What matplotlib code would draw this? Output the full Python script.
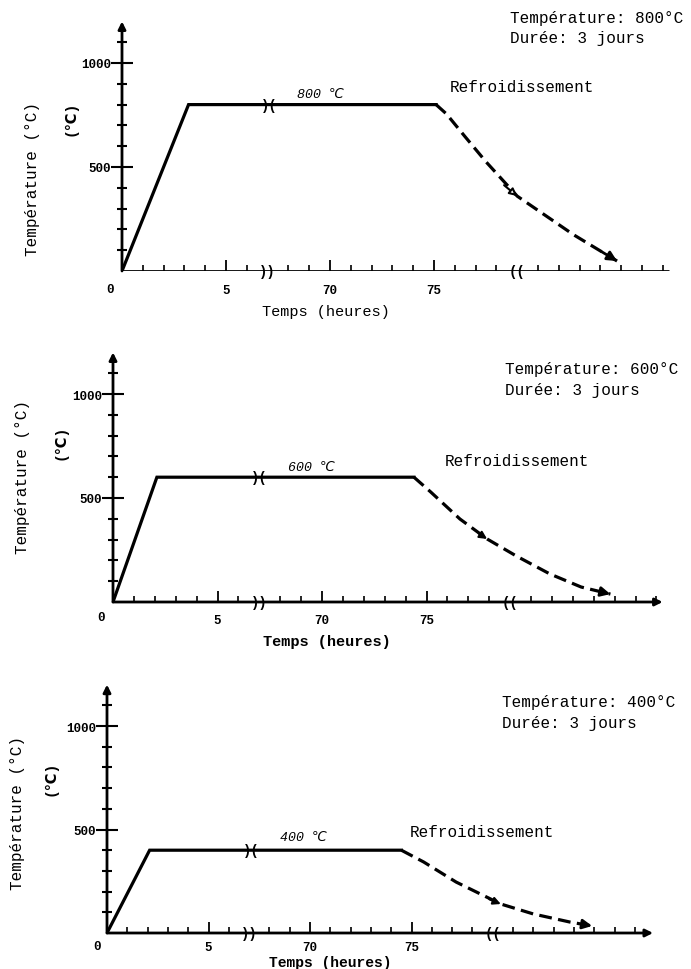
import numpy as np
import matplotlib.pyplot as plt

plt.rcParams['font.family'] = ['Liberation Mono', 'DejaVu Sans Mono', 'DejaVu Sans']

W, H = 691, 970

# ─── Données (axe des temps coupé : 0-5 h, puis 70 -> 10, 75 -> 15) ─────────
temperatures = [800, 600, 400]
tick_pos = [5, 10, 15]
tick_labels = ["5", "70", "75"]
y_major = [500, 1000]
y_major_labels = ["500", "1000"]
y_minor = [100, 200, 300, 400, 600, 700, 800, 900, 1100]
break_pos = [7, 19]

ramp_end = [3.2, 2.1, 2.1]
plateau_end = [15.1, 14.4, 14.5]
plateau_break = [7.1, 7.0, 7.1]
cool_x = [[15.1, 15.6, 16.5, 17.5, 19.0, 21.7, 23.8],
          [14.4, 15.2, 16.6, 17.9, 19.3, 20.9, 22.4, 23.8],
          [14.5, 15.6, 17.2, 19.4, 21.0, 22.8, 23.9]]
cool_y = [[800, 755, 645, 525, 360, 175, 48],
          [600, 529, 399, 303, 221, 135, 72, 38],
          [400, 343, 246, 140, 92, 53, 34]]
mid_idx = [4, 3, 3]
x_end = [26.3, 26.3, 26.9]
y_end = 1200

# ─── Mise en page (pixels) ───────────────────────────────────────────────────
# origine x, origine y, px par graduation, px pour 500 °C
panels = [(122, 272, 20.8, 104), (113, 603, 20.9, 104), (107, 934, 20.3, 103.5)]
txt = [
    dict(info=(510, 18), refr=(450, 88), plat=(297, 95), tau=(70, 118), ylab=(33, 179), xlab=(326, 312), zero=(110, 290)),
    dict(info=(505, 370), refr=(445, 462), plat=(288, 468), tau=(60, 442), ylab=(23, 477), xlab=(327, 642), zero=(101, 618)),
    dict(info=(502, 703), refr=(410, 833), plat=(280, 838), tau=(50, 778), ylab=(18, 813), xlab=(330, 963), zero=(97, 947)),
]
tick_pad = [9, 9, 6]
XMAX, YMAX = 27.5, 1250

fig = plt.figure(figsize=(W / 100, H / 100), dpi=100)


def ft(p, s, **kw):
    return fig.text(p[0] / W, 1 - p[1] / H, s, **kw)


for i, (x0, y0, sx, sy) in enumerate(panels):
    ax = fig.add_axes([x0 / W, 1 - y0 / H, XMAX * sx / W, YMAX * sy / 500 / H])
    ax.set_xlim(0, XMAX)
    ax.set_ylim(0, YMAX)
    for s in ax.spines.values():
        s.set_visible(False)
    ax.patch.set_alpha(0)

    # axes avec flèches
    ax.annotate('', xy=(0, y_end), xytext=(0, 0),
                arrowprops=dict(arrowstyle='-|>', color='k', lw=2, mutation_scale=11,
                                shrinkA=0, shrinkB=0))
    if i == 0:
        ax.plot([0, x_end[i]], [0, 0], color='k', lw=2, solid_capstyle='butt')
    else:
        ax.annotate('', xy=(x_end[i], 0), xytext=(0, 0),
                    arrowprops=dict(arrowstyle='-|>', color='k', lw=2, mutation_scale=11,
                                    shrinkA=0, shrinkB=0))

    # graduations
    minor_x = [k for k in range(1, int(x_end[i]) + 1) if k not in tick_pos + break_pos]
    ax.set_xticks(tick_pos)
    ax.set_xticklabels(tick_labels)
    ax.set_xticks(minor_x, minor=True)
    ax.set_yticks(y_major)
    ax.set_yticklabels(y_major_labels)
    ax.set_yticks(y_minor, minor=True)
    ax.tick_params(axis='x', which='major', direction='in', length=8, width=1.3, pad=tick_pad[i], labelsize=9)
    ax.tick_params(axis='x', which='minor', direction='in', length=4, width=1.2)
    ax.tick_params(axis='y', which='major', direction='inout', length=16, width=1.5, pad=0, labelsize=9)
    ax.tick_params(axis='y', which='minor', direction='inout', length=7, width=1.5)
    for lab in ax.get_xticklabels() + ax.get_yticklabels():
        lab.set_fontweight('bold')

    # ruptures d'axe
    ax.text(break_pos[0], 0, '))', ha='center', va='center', fontsize=10, fontweight='bold')
    ax.text(break_pos[1], 0, '((', ha='center', va='center', fontsize=10, fontweight='bold')
    ax.text(plateau_break[i], temperatures[i], ')(', ha='center', va='center', fontsize=10,
            fontweight='bold')

    # montée + palier
    T = temperatures[i]
    ax.plot([0, ramp_end[i], plateau_end[i]], [0, T, T], color='k', lw=2.3,
            solid_joinstyle='miter')

    # refroidissement
    cx, cy = np.array(cool_x[i]), np.array(cool_y[i])
    ax.plot(cx, cy, color='k', lw=2.3, ls=(0, (4, 2)))
    d = np.array([cx[-1] - cx[-2], cy[-1] - cy[-2]])
    ax.annotate('', xy=(cx[-1], cy[-1]), xytext=(cx[-1] - 0.35 * d[0], cy[-1] - 0.35 * d[1]),
                arrowprops=dict(arrowstyle='-|>', color='k', lw=2, mutation_scale=14,
                                shrinkA=0, shrinkB=0))
    m = mid_idx[i]
    dm = np.array([cx[m + 1] - cx[m - 1], cy[m + 1] - cy[m - 1]])
    ax.annotate('', xy=(cx[m], cy[m]), xytext=(cx[m] - 0.15 * dm[0], cy[m] - 0.15 * dm[1]),
                arrowprops=dict(arrowstyle='-|>', color='k', lw=1.5, mutation_scale=11,
                                fc='white' if i == 0 else 'k', shrinkA=0, shrinkB=0))

    # textes
    t = txt[i]
    ft(t['info'], f"Température: {T}°C", fontsize=11.5, va='center')
    ft((t['info'][0], t['info'][1] + 21), "Durée: 3 jours", fontsize=11.5, va='center')
    ft(t['refr'], "Refroidissement", fontsize=11.5, va='center')
    ft(t['plat'], f"{T} ℃", fontsize=9.5, va='center', style='italic')
    ft(t['tau'], "(℃)", fontsize=10.5, va='center', ha='center', rotation=90, fontweight='bold')
    ft(t['ylab'], "Température (°C)", fontsize=11.5, va='center', ha='center', rotation=90)
    ft(t['xlab'], "Temps (heures)", fontsize=10.5 if i == 2 else 11, va='center', ha='center',
       fontweight='bold' if i else 'normal')
    ft(t['zero'], "0", fontsize=9, va='center', ha='center', fontweight='bold')

fig.savefig("out.png", dpi=100)
